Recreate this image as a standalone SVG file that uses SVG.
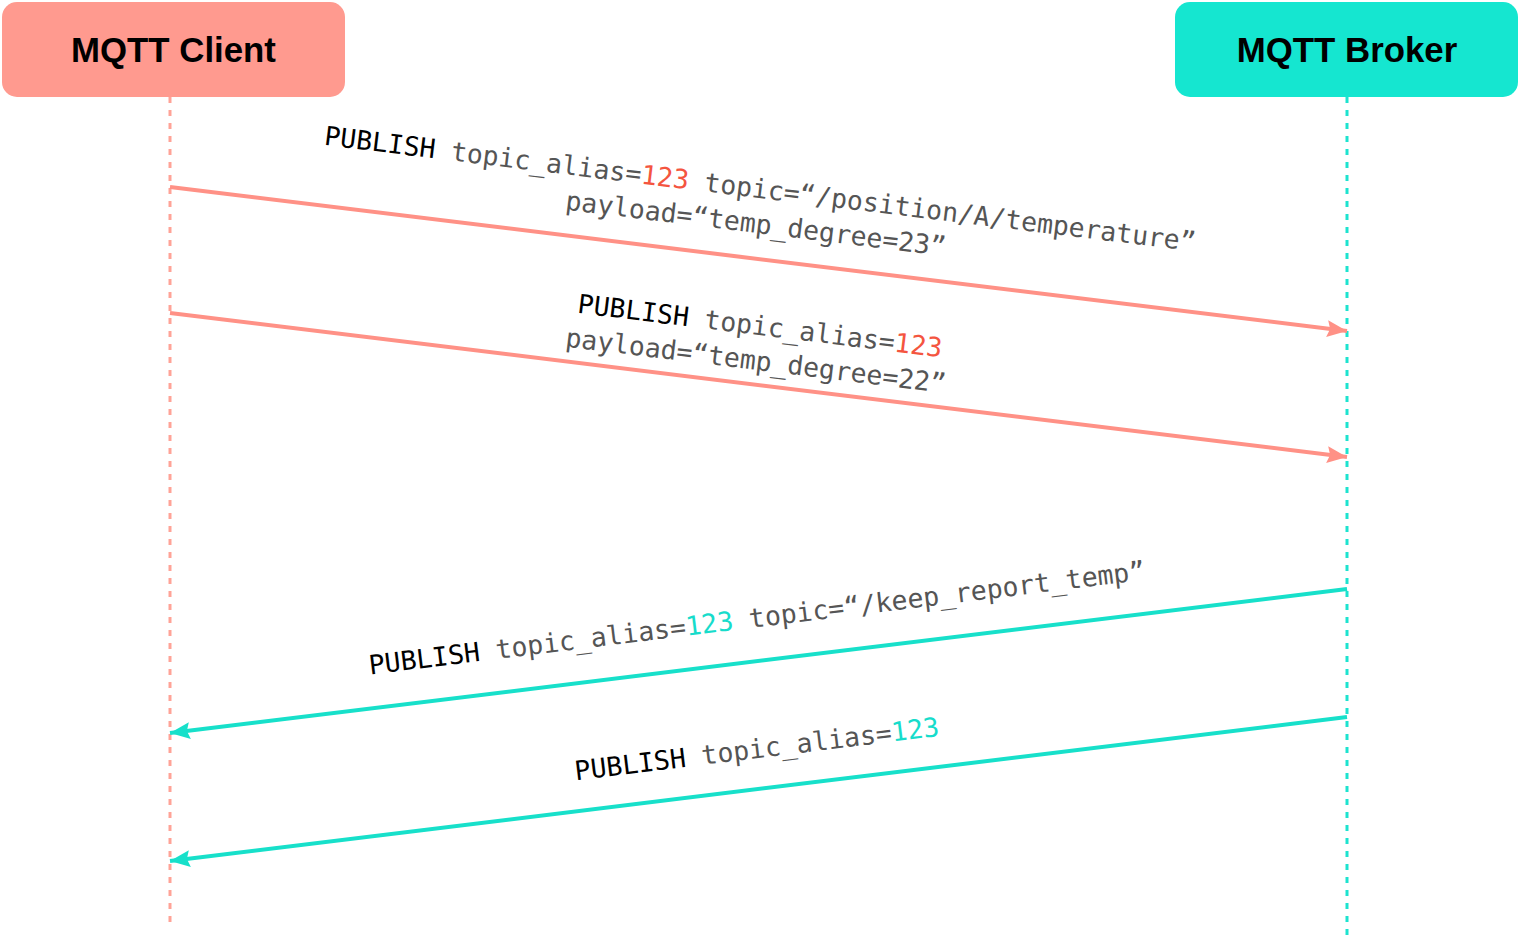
<svg xmlns="http://www.w3.org/2000/svg" width="1520" height="941" viewBox="0 0 1520 941">
<defs>
<style>
.title{font-family:"Liberation Sans",Arial,sans-serif;font-weight:bold;font-size:34.8px;fill:#000;text-anchor:middle}
.lbl{font-family:"DejaVu Sans Mono","Liberation Mono",monospace;font-size:26.5px;fill:#555;text-anchor:middle}
.kw{fill:#000}
.red{fill:#F4553F}
.cyan{fill:#17DCCB}
.life-c{stroke:#FFA397;stroke-width:3;stroke-dasharray:6 7;fill:none}
.life-b{stroke:#1DE3CF;stroke-width:3;stroke-dasharray:6 7;fill:none}
.arr-c{stroke:#FF9186;stroke-width:4;fill:none}
.arr-b{stroke:#17E0CA;stroke-width:4;fill:none}
</style>
<marker id="headC" markerUnits="userSpaceOnUse" markerWidth="22" markerHeight="18" refX="20" refY="8.5" orient="auto"><path d="M0,0 L20,8.5 L0,17 L3,8.5 z" fill="#FF9186"/></marker>
<marker id="headB" markerUnits="userSpaceOnUse" markerWidth="22" markerHeight="18" refX="20" refY="8.5" orient="auto"><path d="M0,0 L20,8.5 L0,17 L3,8.5 z" fill="#17E0CA"/></marker>
</defs>
<rect width="1520" height="941" fill="#fff"/>
<g id="client">
<rect x="2" y="2" width="343" height="95" rx="15" fill="#FF9A8F"/>
<text class="title" x="173.5" y="62">MQTT Client</text>
</g>
<g id="broker">
<rect x="1175" y="2" width="343" height="95" rx="15" fill="#15E6D0"/>
<text class="title" x="1347" y="62">MQTT Broker</text>
</g>
<g id="connectors">
<line class="life-c" x1="170" y1="97" x2="170" y2="926"/>
<line class="life-b" x1="1347" y1="97" x2="1347" y2="940"/>
<line class="arr-c" x1="170" y1="187" x2="1347" y2="331" marker-end="url(#headC)"/>
<line class="arr-c" x1="170" y1="313" x2="1347" y2="457" marker-end="url(#headC)"/>
<line class="arr-b" x1="1347" y1="589" x2="170" y2="733" marker-end="url(#headB)"/>
<line class="arr-b" x1="1347" y1="717" x2="170" y2="861" marker-end="url(#headB)"/>
</g>
<g id="label1" transform="translate(759,198) rotate(6.97)">
<text class="lbl" x="0" y="0"><tspan class="kw">PUBLISH</tspan> topic_alias=<tspan class="red">123</tspan> topic=“/position/A/temperature”</text>
<text class="lbl" x="0" y="35">payload=“temp_degree=23”</text>
</g>
<g id="label2" transform="translate(759,335) rotate(6.97)">
<text class="lbl" x="0" y="0"><tspan class="kw">PUBLISH</tspan> topic_alias=<tspan class="red">123</tspan></text>
<text class="lbl" x="0" y="35">payload=“temp_degree=22”</text>
</g>
<g id="label3" transform="translate(758,627) rotate(-6.97)">
<text class="lbl" x="0" y="0"><tspan class="kw">PUBLISH</tspan> topic_alias=<tspan class="cyan">123</tspan> topic=“/keep_report_temp”</text>
</g>
<g id="label4" transform="translate(758,758) rotate(-6.97)">
<text class="lbl" x="0" y="0"><tspan class="kw">PUBLISH</tspan> topic_alias=<tspan class="cyan">123</tspan></text>
</g>
</svg>
